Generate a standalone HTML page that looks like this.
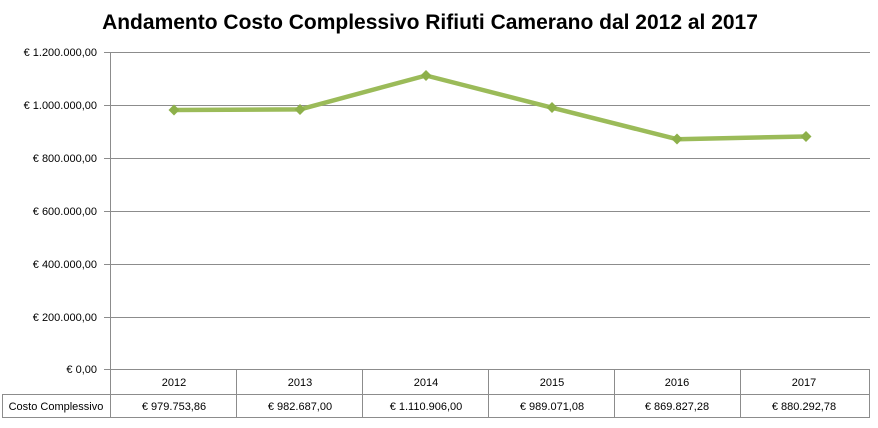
<!DOCTYPE html>
<html><head><style>
body{margin:0;background:#fff;}
svg text{font-family:"Liberation Sans",sans-serif;}
</style></head><body>
<svg width="878" height="423" xmlns="http://www.w3.org/2000/svg">
<rect width="878" height="423" fill="#fff"/>
<text x="430" y="29" text-anchor="middle" font-size="21" font-weight="bold" fill="#000">Andamento Costo Complessivo Rifiuti Camerano dal 2012 al 2017</text>
<g stroke="#8c8c8c" stroke-width="1">
<line x1="104" y1="52.5" x2="870" y2="52.5"/>
<line x1="104" y1="105.5" x2="870" y2="105.5"/>
<line x1="104" y1="158.5" x2="870" y2="158.5"/>
<line x1="104" y1="211.5" x2="870" y2="211.5"/>
<line x1="104" y1="264.5" x2="870" y2="264.5"/>
<line x1="104" y1="317.5" x2="870" y2="317.5"/>
<line x1="104" y1="369.5" x2="870" y2="369.5"/>
<line x1="110.5" y1="52" x2="110.5" y2="418"/>
<line x1="2.5" y1="394.5" x2="870" y2="394.5"/>
<line x1="2.5" y1="417.5" x2="870" y2="417.5"/>
<line x1="2.5" y1="394" x2="2.5" y2="418"/>
<line x1="236.5" y1="369" x2="236.5" y2="418"/>
<line x1="362.5" y1="369" x2="362.5" y2="418"/>
<line x1="488.5" y1="369" x2="488.5" y2="418"/>
<line x1="614.5" y1="369" x2="614.5" y2="418"/>
<line x1="740.5" y1="369" x2="740.5" y2="418"/>
<line x1="869.5" y1="369" x2="869.5" y2="418"/>
</g>
<g font-size="11" fill="#000" text-anchor="end">
<text x="97" y="56">€ 1.200.000,00</text>
<text x="97" y="109">€ 1.000.000,00</text>
<text x="97" y="162">€ 800.000,00</text>
<text x="97" y="215">€ 600.000,00</text>
<text x="97" y="268">€ 400.000,00</text>
<text x="97" y="321">€ 200.000,00</text>
<text x="97" y="373">€ 0,00</text>
</g>
<g font-size="11" fill="#000" text-anchor="middle">
<text x="174" y="386">2012</text><text x="300" y="386">2013</text><text x="426" y="386">2014</text>
<text x="552" y="386">2015</text><text x="677" y="386">2016</text><text x="804" y="386">2017</text>
<text x="174" y="410">€ 979.753,86</text><text x="300" y="410">€ 982.687,00</text><text x="426" y="410">€ 1.110.906,00</text>
<text x="552" y="410">€ 989.071,08</text><text x="677" y="410">€ 869.827,28</text><text x="804" y="410">€ 880.292,78</text>
<text x="56" y="410">Costo Complessivo</text>
</g>
<polyline points="174,110 300,109.4 426,75.5 552,107.7 677,139.2 805,136.5" fill="none" stroke="#9bbb59" stroke-width="4.5" stroke-linejoin="round"/>
<g fill="#8db04a">
<path d="M174,104.5 l5.5,5.5 l-5.5,5.5 l-5.5,-5.5z"/>
<path d="M300,104 l5.5,5.5 l-5.5,5.5 l-5.5,-5.5z"/>
<path d="M426,70 l5.5,5.5 l-5.5,5.5 l-5.5,-5.5z"/>
<path d="M552,102 l5.5,5.5 l-5.5,5.5 l-5.5,-5.5z"/>
<path d="M677,133.5 l5.5,5.5 l-5.5,5.5 l-5.5,-5.5z"/>
<path d="M806,131 l5.5,5.5 l-5.5,5.5 l-5.5,-5.5z"/>
</g>
</svg>
</body></html>
